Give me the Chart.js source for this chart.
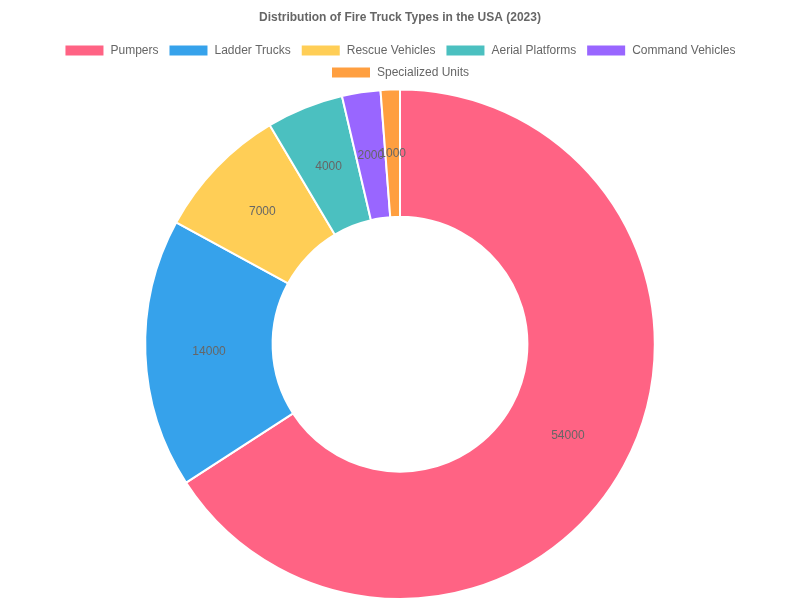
<!DOCTYPE html>
<html>
<head>
<meta charset="utf-8">
<script src="https://cdn.jsdelivr.net/npm/chart.js@4"></script>
<style>
  html, body { margin: 0; padding: 0; background: #fff; }
  #wrap { width: 800px; height: 600px; }
</style>
</head>
<body>
<div id="wrap"><canvas id="trucks"></canvas></div>
<script>
const categories = ["Pumpers", "Ladder Trucks", "Rescue Vehicles", "Aerial Platforms", "Command Vehicles", "Specialized Units"];
const counts = [54000, 14000, 7000, 4000, 2000, 1000];
const colors = ["#ff6384", "#36a2eb", "#ffce56", "#4bc0c0", "#9966ff", "#ff9f40"];

// draws the value in the middle of each slice
const sliceLabels = {
    id: 'sliceLabels',
    afterDatasetsDraw(chart) {
        const ctx = chart.ctx;
        const meta = chart.getDatasetMeta(0);
        ctx.save();
        ctx.font = "12px 'Helvetica Neue', Helvetica, Arial, sans-serif";
        ctx.fillStyle = '#666';
        ctx.textAlign = 'center';
        ctx.textBaseline = 'middle';
        meta.data.forEach(function(arc, i) {
            const pos = arc.tooltipPosition();
            ctx.fillText(String(chart.data.datasets[0].data[i]), pos.x, pos.y);
        });
        ctx.restore();
    }
};

var ctx = document.getElementById("trucks").getContext('2d');
new Chart(ctx, {
    type: 'doughnut',
    data: {
        labels: categories,
        datasets: [{
            data: counts,
            backgroundColor: colors,
            borderColor: '#fff',
            borderWidth: 2
        }]
    },
    options: {
        responsive: true,
        maintainAspectRatio: false,
        animation: false,
        cutout: '50%',
        plugins: {
            title: {
                display: true,
                text: 'Distribution of Fire Truck Types in the USA (2023)',
                color: '#666',
                font: { size: 12, weight: 'bold' }
            },
            legend: {
                position: 'top',
                labels: { color: '#666' }
            },
            tooltip: { enabled: false }
        }
    },
    plugins: [sliceLabels]
});
</script>
</body>
</html>
